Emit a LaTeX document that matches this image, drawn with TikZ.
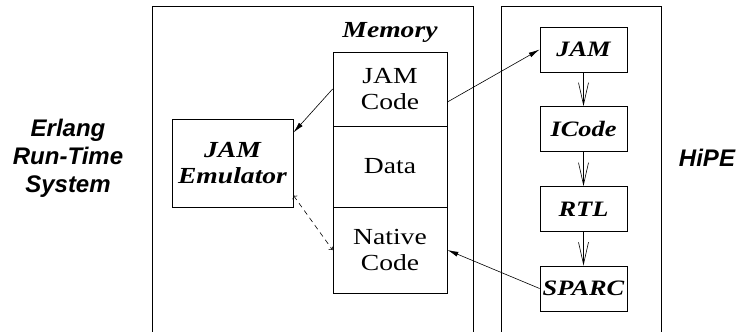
\documentclass[tikz,border=0pt]{standalone}
\usepackage{fontspec}
\setmainfont[FakeStretch=1.2]{Liberation Serif}
\newfontfamily\hvfont{Liberation Sans}
\usetikzlibrary{arrows.meta}

\begin{document}
\begin{tikzpicture}[x=1pt,y=-1pt,
    box/.style={draw,line width=0.8pt,inner sep=0pt,align=center,font=\fontsize{23}{26}\selectfont},
    memcell/.style={box,minimum width=114pt},
    pass/.style={box,minimum width=87pt,minimum height=45pt,font=\fontsize{22}{26}\selectfont\bfseries\itshape},
    sysname/.style={align=center,font=\hvfont\fontsize{24}{28}\selectfont\bfseries\itshape},
    fetch/.style={-{Latex[length=11pt,width=5pt]},line width=0.6pt},
    compile/.style={-{Straight Barb[length=22pt,width=10pt]},line width=0.6pt}]
    \useasboundingbox (0,0) rectangle (739,332);
    \draw[line width=0.8pt] (152,332) -- (152,6) -- (473,6) -- (473,332);
    \draw[line width=0.8pt] (501,332) -- (501,6) -- (661,6) -- (661,332);
    \node[sysname] (ert) at (68,158) {Erlang\\Run-Time\\System};
    \node[sysname] (hipe) at (707,158) {HiPE};
    \node[font=\fontsize{23}{26}\selectfont\bfseries\itshape] (memory) at (390,32) {Memory};
    \node[memcell,minimum height=74pt] (jamcode) at (390,89) {JAM\\Code};
    \node[memcell,minimum height=81pt] (data) at (390,166.5) {Data};
    \node[memcell,minimum height=86pt] (native) at (390,250) {Native\\Code};
    \node[box,minimum width=121pt,minimum height=88pt,font=\fontsize{23}{26}\selectfont\bfseries\itshape] (emu) at (232.5,163) {JAM\\Emulator};
    \node[pass] (jam) at (583.5,49.5) {JAM};
    \node[pass] (icode) at (583.5,129) {ICode};
    \node[pass] (rtl) at (583.5,209) {RTL};
    \node[pass] (sparc) at (583.5,288.5) {SPARC};
    \draw[fetch] (jamcode.west) -- ([yshift=-14pt]emu.north east);
    \draw[fetch,<->,dash pattern=on 5pt off 4pt] ([yshift=12pt]emu.south east) -- (native.west);
    \draw[fetch] ([yshift=-13pt]jamcode.east) -- (jam.west);
    \draw[fetch] (sparc.west) -- (native.east);
    \draw[compile] (jam) -- (icode);
    \draw[compile] (icode) -- (rtl);
    \draw[compile] (rtl) -- (sparc);
\end{tikzpicture}
\end{document}
